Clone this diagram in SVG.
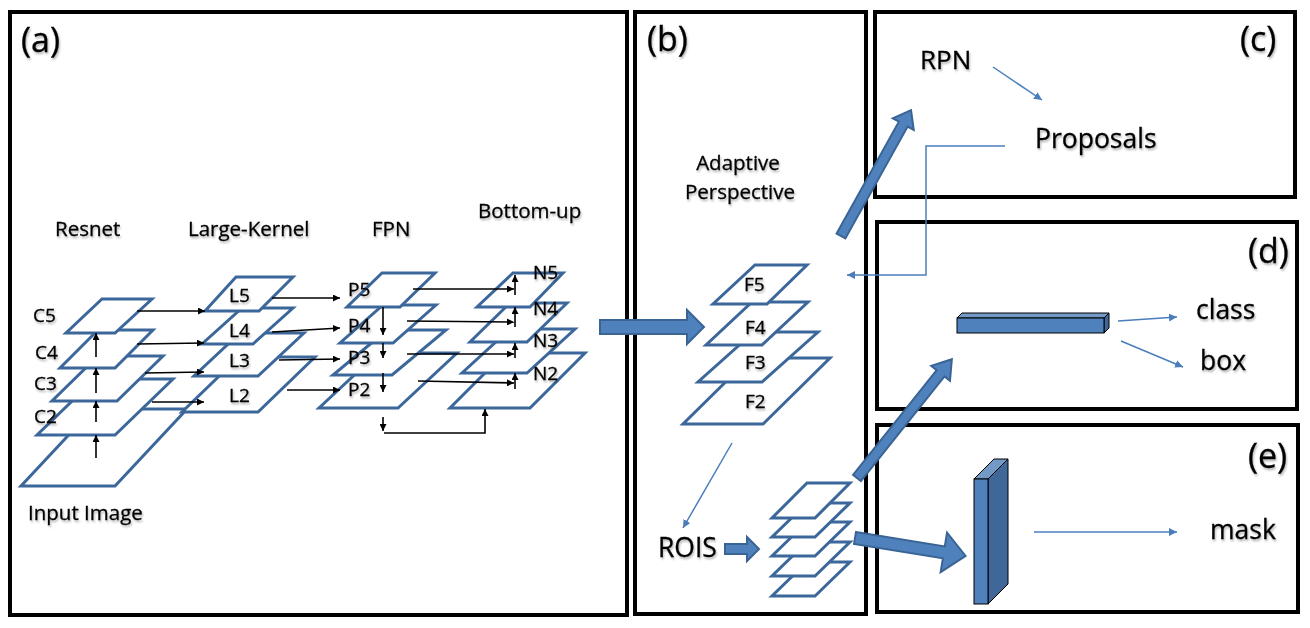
<svg xmlns="http://www.w3.org/2000/svg" width="1310" height="628" viewBox="0 0 1310 628">
<defs>
<style>
.panel{fill:none;stroke:#000;stroke-width:4}
.ly{fill:#fff;stroke:#3c679b;stroke-width:3;stroke-linejoin:miter}
.blk{stroke:#000;stroke-width:1.6;fill:none}
.blu{stroke:#4a7ebb;stroke-width:1.5;fill:none}
.barrow{fill:#4f81bd;stroke:#3a6494;stroke-width:2;stroke-linejoin:miter}
text{font-family:"Open Sans",Lato,"Liberation Sans",sans-serif;fill:#000;stroke:#000;stroke-width:0.3;filter:url(#sh)}
.pl{font-size:34px}
.big{font-size:26.5px}
.sm{font-size:19px}
.tt{font-size:20.5px}
</style>
<filter id="sh" x="-10%" y="-20%" width="130%" height="150%">
<feGaussianBlur in="SourceAlpha" stdDeviation="1"/>
<feOffset dx="1" dy="1.5" result="b"/>
<feComponentTransfer><feFuncA type="linear" slope="0.3"/></feComponentTransfer>
<feMerge><feMergeNode/><feMergeNode in="SourceGraphic"/></feMerge>
</filter>
<marker id="ab" viewBox="0 0 10 10" refX="10" refY="5" markerWidth="7" markerHeight="7" markerUnits="userSpaceOnUse" orient="auto"><path d="M0,0 L10,5 L0,10 Z" fill="#000"/></marker>
<marker id="au" viewBox="0 0 10 10" refX="10" refY="5" markerWidth="8" markerHeight="8" markerUnits="userSpaceOnUse" orient="auto"><path d="M0,0 L10,5 L0,10 Z" fill="#4a7ebb"/></marker>
</defs>
<rect width="1310" height="628" fill="#fff"/>

<g id="panels">
<rect class="panel" x="10" y="12" width="617" height="603"/>
<rect class="panel" x="635" y="12" width="231" height="602"/>
<rect class="panel" x="875" y="12" width="420" height="185"/>
<rect class="panel" x="877" y="222" width="420" height="187"/>
<rect class="panel" x="877" y="425" width="421" height="187"/>
<text class="pl" x="21" y="52">(a)</text>
<text class="pl" x="647" y="51">(b)</text>
<text class="pl" x="1240" y="51">(c)</text>
<text class="pl" x="1248" y="263">(d)</text>
<text class="pl" x="1248" y="468">(e)</text>
</g>

<g id="resnet">
<polygon class="ly" points="93,409 187,409 115,486 21,486"/>
<polygon class="ly" points="95,379 173,379 115,435 37,435"/>
<polygon class="ly" points="98,356 163,356 117,401 52,401"/>
<polygon class="ly" points="98,330 153,330 115,368 60,368"/>
<polygon class="ly" points="102,299 152,299 115,333 66,333"/>
<text class="tt" x="55" y="236">Resnet</text>
<text class="sm" x="33" y="322">C5</text>
<text class="sm" x="35" y="359">C4</text>
<text class="sm" x="34" y="390">C3</text>
<text class="sm" x="34" y="423">C2</text>
<text class="tt" x="28" y="520">Input Image</text>
</g>

<g id="large-kernel">
<polygon class="ly" points="239,357 315,357 258,412 182,412"/>
<polygon class="ly" points="240,333 304,333 258,376 194,376"/>
<polygon class="ly" points="242,308 293,308 253,344 202,344"/>
<polygon class="ly" points="236,277 293,277 259,311 205,311"/>
<text class="tt" x="188" y="236">Large-Kernel</text>
<text class="sm" x="229" y="302">L5</text>
<text class="sm" x="229" y="337">L4</text>
<text class="sm" x="229" y="367">L3</text>
<text class="sm" x="229" y="402">L2</text>
</g>

<g id="fpn">
<polygon class="ly" points="378,353 457,353 398,408 319,408"/>
<polygon class="ly" points="387,330 446,330 392,375 333,375"/>
<polygon class="ly" points="383,305 436,305 393,343 340,343"/>
<polygon class="ly" points="382,273 435,273 400,307 347,307"/>
<text class="tt" x="372" y="236">FPN</text>
<text class="sm" x="348" y="296">P5</text>
<text class="sm" x="348" y="332">P4</text>
<text class="sm" x="348" y="364">P3</text>
<text class="sm" x="348" y="396">P2</text>
</g>

<g id="bottom-up">
<polygon class="ly" points="505,353 585,353 530,408 450,408"/>
<polygon class="ly" points="510,329 575,329 527,373 462,373"/>
<polygon class="ly" points="510,303 567,303 527,342 470,342"/>
<polygon class="ly" points="513,273 563,273 530,307 477,307"/>
<text class="tt" x="478" y="218">Bottom-up</text>
<text class="sm" x="533" y="279">N5</text>
<text class="sm" x="533" y="315">N4</text>
<text class="sm" x="533" y="347">N3</text>
<text class="sm" x="533" y="380">N2</text>
</g>

<g id="adaptive">
<polygon class="ly" points="750,358 830,358 763,424 683,424"/>
<polygon class="ly" points="754,332 818,332 762,382 698,382"/>
<polygon class="ly" points="752,302 808,302 762,345 706,345"/>
<polygon class="ly" points="755,265 807,265 767,304 713,304"/>
<text class="tt" x="738" y="170" text-anchor="middle">Adaptive</text>
<text class="tt" x="740" y="199" text-anchor="middle">Perspective</text>
<text class="sm" x="744" y="291">F5</text>
<text class="sm" x="745" y="334">F4</text>
<text class="sm" x="745" y="369">F3</text>
<text class="sm" x="745" y="408">F2</text>
</g>

<g id="rois">
<text class="big" x="658" y="557">ROIS</text>
</g>

<g id="roi-stack">
<polygon class="ly" points="807,562 850,562 815,596 772,596"/>
<polygon class="ly" points="807,542 850,542 815,576 772,576"/>
<polygon class="ly" points="807,522 850,522 815,556 772,556"/>
<polygon class="ly" points="807,503 850,503 815,537 772,537"/>
<polygon class="ly" points="807,483 850,483 815,518 772,518"/>
</g>

<g id="rpn">
<text x="920" y="69" style="font-size:26px">RPN</text>
<text class="big" x="1035" y="148">Proposals</text>
</g>

<g id="fc-head">
<polygon points="957,318 962,313 1109,313 1104,318" fill="#7399c6" stroke="#000" stroke-width="1"/>
<polygon points="1104,318 1109,313 1109,328 1104,333" fill="#3f6797" stroke="#000" stroke-width="1"/>
<rect x="957" y="318" width="147" height="15" fill="#4f81bd" stroke="#000" stroke-width="1"/>
<text class="big" x="1196" y="319">class</text>
<text class="big" x="1200" y="370">box</text>
</g>

<g id="mask-head">
<polygon points="974,479 994,459 1008,459 988,479" fill="#7399c6" stroke="#000" stroke-width="1"/>
<polygon points="988,479 1008,459 1008,584 988,604" fill="#3f6797" stroke="#000" stroke-width="1"/>
<rect x="974" y="479" width="14" height="125" fill="#4f81bd" stroke="#000" stroke-width="1"/>
<text class="big" x="1210" y="539">mask</text>
</g>

<g id="connectors">
<line class="blk" x1="96" y1="458" x2="96" y2="435" marker-end="url(#ab)"/>
<line class="blk" x1="96" y1="422" x2="96" y2="401" marker-end="url(#ab)"/>
<line class="blk" x1="96" y1="393" x2="96" y2="368" marker-end="url(#ab)"/>
<line class="blk" x1="96" y1="357" x2="96" y2="333" marker-end="url(#ab)"/>
<line class="blk" x1="137" y1="311" x2="205" y2="311" marker-end="url(#ab)"/>
<line class="blk" x1="137" y1="344" x2="204" y2="343" marker-end="url(#ab)"/>
<line class="blk" x1="145" y1="373" x2="204" y2="372" marker-end="url(#ab)"/>
<line class="blk" x1="152" y1="402" x2="204" y2="402" marker-end="url(#ab)"/>
<line class="blk" x1="272" y1="298" x2="340" y2="298" marker-end="url(#ab)"/>
<line class="blk" x1="272" y1="332" x2="340" y2="328" marker-end="url(#ab)"/>
<line class="blk" x1="279" y1="360" x2="340" y2="359" marker-end="url(#ab)"/>
<line class="blk" x1="287" y1="390" x2="340" y2="390" marker-end="url(#ab)"/>
<line class="blk" x1="383" y1="307" x2="383" y2="335" marker-end="url(#ab)"/>
<line class="blk" x1="383" y1="343" x2="383" y2="358" marker-end="url(#ab)"/>
<line class="blk" x1="383" y1="373" x2="383" y2="392" marker-end="url(#ab)"/>
<line class="blk" x1="383" y1="417" x2="383" y2="431" marker-end="url(#ab)"/>
<polyline class="blk" points="384,433 485,433 485,409" marker-end="url(#ab)"/>
<line class="blk" x1="413" y1="289" x2="514" y2="289" marker-end="url(#ab)"/>
<line class="blk" x1="407" y1="321" x2="514" y2="322" marker-end="url(#ab)"/>
<line class="blk" x1="407" y1="354" x2="514" y2="354" marker-end="url(#ab)"/>
<line class="blk" x1="418" y1="381" x2="514" y2="383" marker-end="url(#ab)"/>
<line class="blk" x1="515" y1="295" x2="515" y2="275" marker-end="url(#ab)"/>
<line class="blk" x1="515" y1="327" x2="515" y2="307" marker-end="url(#ab)"/>
<line class="blk" x1="515" y1="358" x2="515" y2="343" marker-end="url(#ab)"/>
<line class="blk" x1="515" y1="389" x2="515" y2="373" marker-end="url(#ab)"/>
<line class="blu" x1="732" y1="443" x2="683" y2="528" marker-end="url(#au)"/>
<line class="blu" x1="993" y1="67" x2="1042" y2="100" marker-end="url(#au)"/>
<polyline class="blu" points="1005,146 926,146 926,275 847,275" marker-end="url(#au)"/>
<line class="blu" x1="1118" y1="321" x2="1177" y2="317" marker-end="url(#au)"/>
<line class="blu" x1="1121" y1="341" x2="1183" y2="367" marker-end="url(#au)"/>
<line class="blu" x1="1034" y1="532" x2="1177" y2="532" marker-end="url(#au)"/>
<path class="barrow" transform="translate(600,327)" d="M0,-7 L87,-7 L87,-17 L104,0 L87,17 L87,7 L0,7 Z"/>
<path class="barrow" transform="translate(725,549)" d="M0,-5 L22,-5 L22,-12 L34,0 L22,12 L22,5 L0,5 Z"/>
<path class="barrow" transform="translate(841,236) rotate(-60.9)" d="M0,-5 L128,-5 L128,-12 L144,0 L128,12 L128,5 L0,5 Z"/>
<path class="barrow" transform="translate(857,478) rotate(-51.4)" d="M0,-5 L134,-5 L134,-12 L152,0 L134,12 L134,5 L0,5 Z"/>
<path class="barrow" transform="translate(855,538) rotate(9.2)" d="M0,-6 L90,-6 L90,-20 L112,0 L90,20 L90,6 L0,6 Z"/>
</g>
</svg>
